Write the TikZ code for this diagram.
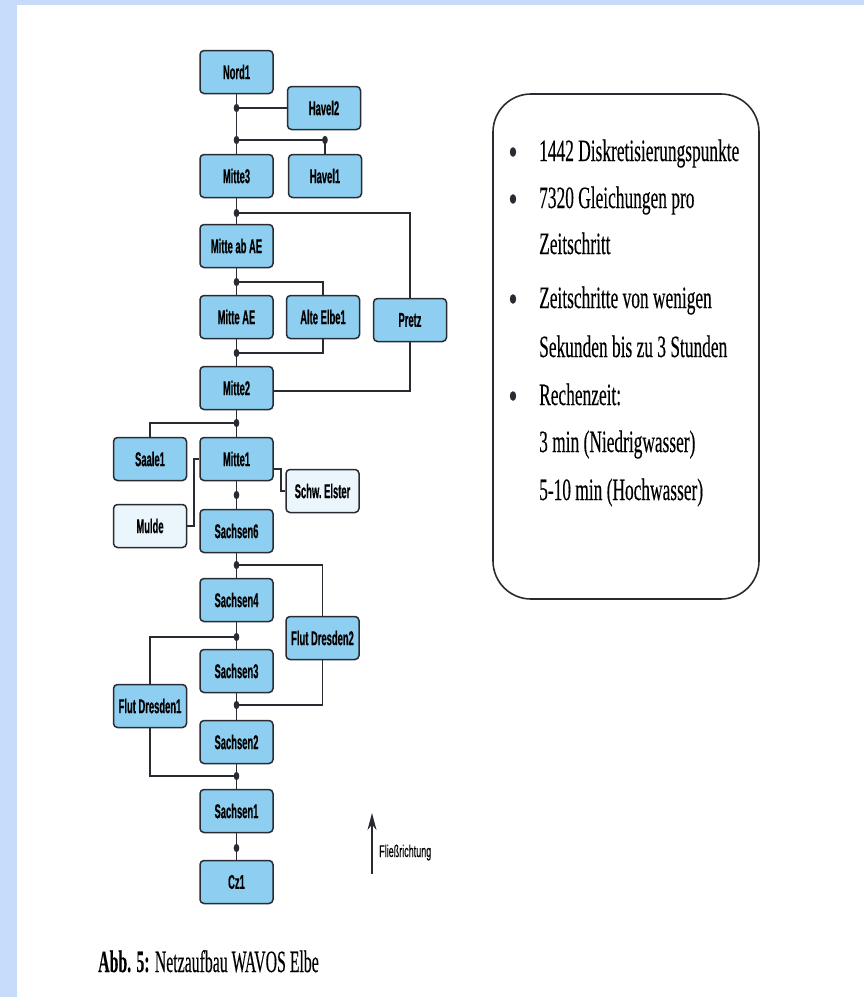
\documentclass[tikz,border=0pt]{standalone}
\usepackage{fontspec}
\setmainfont{Liberation Serif}
\newfontfamily\segfont[FakeStretch=0.47,FakeBold=0.4]{Liberation Sans}
\newfontfamily\factfont[FakeStretch=0.56,FakeBold=0.25]{Liberation Serif}
\newfontfamily\capfont[FakeStretch=0.51,FakeBold=0.25]{Liberation Serif}
\newfontfamily\flowfont[FakeStretch=0.53,FakeBold=0.3]{Liberation Sans}
\usetikzlibrary{calc,arrows.meta}
\definecolor{pageblue}{RGB}{199,220,251}
\definecolor{segblue}{RGB}{142,206,240}
\definecolor{paleblue}{RGB}{234,245,252}
\definecolor{edge}{RGB}{40,44,50}

\begin{document}
\begin{tikzpicture}[x=1pt,y=-1pt,
  seg/.style={draw=edge,line width=1.5pt,fill=segblue,rounded corners=4pt,
    minimum width=73pt,minimum height=43pt,inner sep=0pt,
    font=\segfont\bfseries\fontsize{20}{22}\selectfont},
  inflow/.style={seg,fill=paleblue},
  link/.style={draw=edge,line width=1.7pt},
  fact/.style={inner sep=0pt,font=\factfont\fontsize{31}{34}\selectfont}]
  \useasboundingbox (0,0) rectangle (864,997);
  \fill[pageblue] (0,0) rectangle (864,997);
  \fill[white] (17,5) rectangle (864,997);

  % river segments
  \node[seg] (nord1) at (236.5,72) {Nord1};
  \node[seg] (havel2) at (324,108) {Havel2};
  \node[seg] (mitte3) at (236.5,176) {Mitte3};
  \node[seg] (havel1) at (325,176) {Havel1};
  \node[seg] (mitteabae) at (236.5,246) {Mitte ab AE};
  \node[seg] (mitteae) at (236.5,317) {Mitte AE};
  \node[seg] (alteelbe1) at (323,317) {Alte Elbe1};
  \node[seg] (pretz) at (410,320) {Pretz};
  \node[seg] (mitte2) at (236.5,388) {Mitte2};
  \node[seg] (saale1) at (150,459) {Saale1};
  \node[seg] (mitte1) at (236.5,459) {Mitte1};
  \node[inflow] (schwelster) at (322.5,491) {Schw.\ Elster};
  \node[inflow] (mulde) at (150,526) {Mulde};
  \node[seg] (sachsen6) at (236.5,531) {Sachsen6};
  \node[seg] (sachsen4) at (236.5,600) {Sachsen4};
  \node[seg] (flutdresden2) at (322.5,638) {Flut Dresden2};
  \node[seg] (sachsen3) at (236.5,671) {Sachsen3};
  \node[seg] (flutdresden1) at (150,706) {Flut Dresden1};
  \node[seg] (sachsen2) at (236.5,742) {Sachsen2};
  \node[seg] (sachsen1) at (236.5,811) {Sachsen1};
  \node[seg] (cz1) at (236.5,882) {Cz1};

  % junctions
  \coordinate (jA) at (236.5,108);
  \coordinate (jB) at (236.5,140);
  \coordinate (jB2) at (jB -| havel1);
  \coordinate (jC) at (236.5,213);
  \coordinate (jD) at (236.5,282);
  \coordinate (jE) at (236.5,353);
  \coordinate (jF) at (236.5,423);
  \coordinate (jG) at (236.5,495);
  \coordinate (jH) at (236.5,565);
  \coordinate (jI) at (236.5,637);
  \coordinate (jJ) at (236.5,705);
  \coordinate (jK) at (236.5,776);
  \coordinate (jL) at (236.5,848);

  \foreach \a/\b in {nord1/mitte3,mitte3/mitteabae,mitteabae/mitteae,mitteae/mitte2,
      mitte2/mitte1,mitte1/sachsen6,sachsen6/sachsen4,sachsen4/sachsen3,
      sachsen3/sachsen2,sachsen2/sachsen1,sachsen1/cz1}
    \draw[link] (\a) -- (\b);
  \draw[link] (jA) -- (havel2.west);
  \draw[link] (jB) -- (jB2) -- (havel1.north);
  \draw[link] (jC) -| (pretz.north);
  \draw[link] (jD) -| (alteelbe1.north);
  \draw[link] (alteelbe1.south) |- (jE);
  \draw[link] ($(mitte2.east)+(0,3)$) -| (pretz.south);
  \draw[link] (jF) -| (saale1.north);
  \draw[link] ($(mitte1.east)+(0,10)$) -- ++(7,0) |- (schwelster.west);
  \draw[link] (mulde.east) -- ++(7,0) |- (mitte1.west);
  \draw[link] (jH) -| (flutdresden2.north);
  \draw[link] (jI) -| (flutdresden1.north);
  \draw[link] (flutdresden2.south) |- (jJ);
  \draw[link] (flutdresden1.south) |- (jK);
  \foreach \j in {jA,jB,jB2,jC,jD,jE,jF,jG,jH,jI,jJ,jK,jL}
    \fill[edge] (\j) ellipse [x radius=2.8pt,y radius=4.2pt];

  % model facts
  \draw[edge,line width=1.6pt,rounded corners=38pt] (493,94) rectangle (759,599);
  \foreach \yb/\txt in {161/{1442 Diskretisierungspunkte},208/{7320 Gleichungen pro},
      254/{Zeitschritt},308/{Zeitschritte von wenigen},357/{Sekunden bis zu 3 Stunden},
      405/{Rechenzeit:},452/{3 min (Niedrigwasser)},500/{5-10 min (Hochwasser)}}
    \node[fact,anchor=base west] (fact\yb) at (539,\yb) {\txt};
  \foreach \yb in {161,208,308,405}
    \fill[edge] (513,\yb-9) ellipse [x radius=3.2pt,y radius=4.8pt];

  % flow direction
  \coordinate (flowtail) at (372,874);
  \coordinate (flowtip) at (372,813);
  \draw[edge,line width=1.3pt,-{Stealth[length=17pt,width=9pt]}] (flowtail) -- (flowtip);
  \node[inner sep=0pt,anchor=base west,font=\flowfont\fontsize{17}{19}\selectfont]
    (flowlabel) at (379,857) {Fließrichtung};

  \node[inner sep=0pt,anchor=base west,font=\capfont\fontsize{31}{34}\selectfont]
    (caption) at (98,972) {\textbf{Abb. 5:} Netzaufbau WAVOS Elbe};
\end{tikzpicture}
\end{document}
